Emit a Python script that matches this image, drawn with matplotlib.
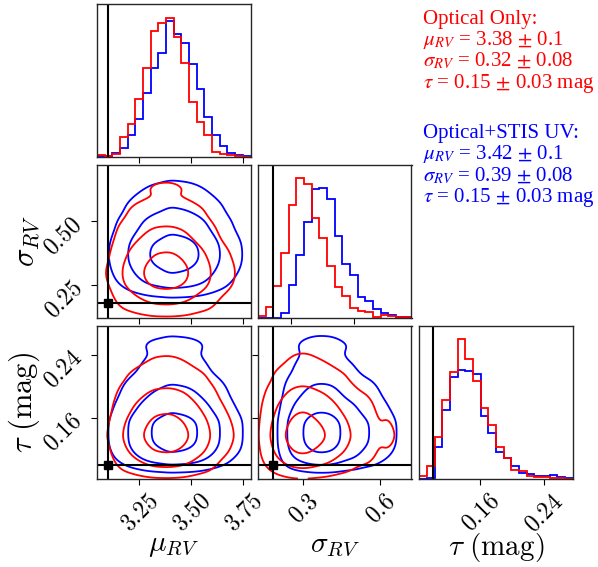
import numpy as np
import matplotlib.pyplot as plt
from matplotlib.ticker import FixedLocator, FixedFormatter, NullFormatter

plt.rcParams['mathtext.fontset'] = 'cm'

# parameters of the corner plot
labels = [r'$\mu_{RV}$', r'$\sigma_{RV}$', r'$\tau\ \mathrm{(mag)}$']
ranges = [(3.049, 3.785), (0.122, 0.724), (0.083, 0.277)]
truths = [3.10, 0.18, 0.10]
nbins = 20

# marginal histograms (20 equal bins across each range, arbitrary units)
mu_red = [6, 2, 10, 60, 100, 175, 268, 380, 402, 418, 360, 282, 165, 105, 67, 15, 10, 5, 2, 0]
mu_blue = [3, 2, 12, 27, 65, 115, 193, 268, 313, 410, 370, 342, 280, 205, 120, 65, 33, 12, 7, 2]
sig_red = [4, 30, 94, 192, 337, 415, 397, 297, 237, 154, 92, 64, 27, 19, 15, 2, 6, 4, 2, 1]
sig_blue = [0, 0, 0, 12, 97, 187, 284, 382, 385, 355, 242, 159, 127, 62, 49, 24, 12, 6, 2, 1]
tau_red = [7, 37, 125, 235, 318, 417, 357, 292, 210, 160, 95, 60, 25, 22, 8, 5, 3, 1, 1, 0]
tau_blue = [0, 2, 95, 205, 305, 325, 322, 312, 187, 135, 80, 60, 37, 15, 12, 8, 6, 10, 3, 1]

hists = {'red': [mu_red, sig_red, tau_red], 'blue': [mu_blue, sig_blue, tau_blue]}

# ticks
diag_ticks = [[3.25, 3.50, 3.75], [0.25, 0.50], [0.16, 0.24]]
x_ticks = [[3.25, 3.50, 3.75], [0.3, 0.6], [0.16, 0.24]]
x_ticklabels = [['3.25', '3.50', '3.75'], ['0.3', '0.6'], ['0.16', '0.24']]
y_ticks = [None, [0.25, 0.50], [0.16, 0.24]]
y_ticklabels = [None, ['0.25', '0.50'], ['0.16', '0.24']]

red_text = ['Optical Only:', r'$\mu_{RV}$ = 3.38 $\pm$ 0.1',
            r'$\sigma_{RV}$ = 0.32 $\pm$ 0.08', r'$\tau$ = 0.15 $\pm$ 0.03 mag']
blue_text = ['Optical+STIS UV:', r'$\mu_{RV}$ = 3.42 $\pm$ 0.1',
             r'$\sigma_{RV}$ = 0.39 $\pm$ 0.08', r'$\tau$ = 0.15 $\pm$ 0.03 mag']

levels_sigma = np.array([1.0, 2.0, 3.0])

W, H = 598, 567
fig = plt.figure(figsize=(W / 100, H / 100), dpi=100)

col_left = [97, 258, 419.3]
row_top = [4, 164.5, 325.5]
aw, ah = 153.5, 153


def smooth_density(counts, lo, hi, grid):
    edges = np.linspace(lo, hi, nbins + 1)
    centers = 0.5 * (edges[1:] + edges[:-1])
    d = np.interp(grid, centers, counts, left=0, right=0)
    k = np.exp(-0.5 * (np.arange(-30, 31) / 9.0) ** 2)
    return np.convolve(d, k / k.sum(), mode='same')


def mass_levels(dens, fracs):
    flat = np.sort(dens.ravel())[::-1]
    cum = np.cumsum(flat)
    cum /= cum[-1]
    return sorted(flat[np.searchsorted(cum, f)] for f in fracs)


fracs = 1 - np.exp(-0.5 * levels_sigma ** 2)
grids = [np.linspace(lo, hi, 300) for lo, hi in ranges]

axes = {}
for i in range(3):
    for j in range(i + 1):
        ax = fig.add_axes([col_left[j] / W, 1 - (row_top[i] + ah) / H, aw / W, ah / H])
        axes[i, j] = ax
        for s in ax.spines.values():
            s.set_color('0.15')
            s.set_linewidth(1.0)
        ax.tick_params(direction='out', length=4, width=0.8, labelsize=17)
        ax.set_xlim(ranges[j])
        if i == j:
            top = 0
            for c in ['blue', 'red']:
                counts = hists[c][i]
                edges = np.linspace(ranges[i][0], ranges[i][1], nbins + 1)
                ax.stairs(counts, edges, color=c, lw=1.3)
                top = max(top, max(counts))
            ax.set_ylim(0, 1.1 * top)
            ax.axvline(truths[i], color='k', lw=1.5)
            ax.set_yticks([])
            if i == 2:
                ax.xaxis.set_major_locator(FixedLocator(x_ticks[i]))
                ax.xaxis.set_major_formatter(FixedFormatter(['$%s$' % t for t in x_ticklabels[i]]))
                for t in ax.get_xticklabels():
                    t.set_rotation(45)
            else:
                ax.xaxis.set_major_locator(FixedLocator(diag_ticks[i]))
                ax.xaxis.set_major_formatter(NullFormatter())
        else:
            ax.set_ylim(ranges[i])
            for c in ['blue', 'red']:
                dx = smooth_density(hists[c][j], *ranges[j], grids[j])
                dy = smooth_density(hists[c][i], *ranges[i], grids[i])
                dens = dy[:, None] * dx[None, :]
                ax.contour(grids[j], grids[i], dens, levels=mass_levels(dens, fracs),
                           colors=c, linewidths=1.3)
            ax.axvline(truths[j], color='k', lw=1.5)
            ax.axhline(truths[i], color='k', lw=1.5)
            ax.plot(truths[j], truths[i], 's', color='k', ms=6)
            ax.yaxis.set_major_locator(FixedLocator(y_ticks[i]))
            if j == 0:
                ax.yaxis.set_major_formatter(FixedFormatter(['$%s$' % t for t in y_ticklabels[i]]))
                for t in ax.get_yticklabels():
                    t.set_rotation(45)
                ax.set_ylabel(labels[i], fontsize=22)
                ax.yaxis.set_label_coords(-0.36, 0.5)
            else:
                ax.yaxis.set_major_formatter(NullFormatter())
            if i == 2:
                ax.xaxis.set_major_locator(FixedLocator(x_ticks[j]))
                ax.xaxis.set_major_formatter(FixedFormatter(['$%s$' % t for t in x_ticklabels[j]]))
                for t in ax.get_xticklabels():
                    t.set_rotation(45)
            else:
                ax.xaxis.set_major_locator(FixedLocator(diag_ticks[j]))
                ax.xaxis.set_major_formatter(NullFormatter())
        if i == 2:
            ax.set_xlabel(labels[j], fontsize=21)
            ax.xaxis.set_label_coords(0.5, -0.34)

# summary text
for k, line in enumerate(red_text):
    fig.text(422.7 / W, 1 - (24 + 21.2 * k) / H, line, color='red', fontsize=15,
             family='Liberation Serif', math_fontfamily='stix', va='baseline')
for k, line in enumerate(blue_text):
    fig.text(422.7 / W, 1 - (138 + 21.4 * k) / H, line, color='blue', fontsize=15,
             family='Liberation Serif', math_fontfamily='stix', va='baseline')

fig.savefig('out.png', dpi=100)
